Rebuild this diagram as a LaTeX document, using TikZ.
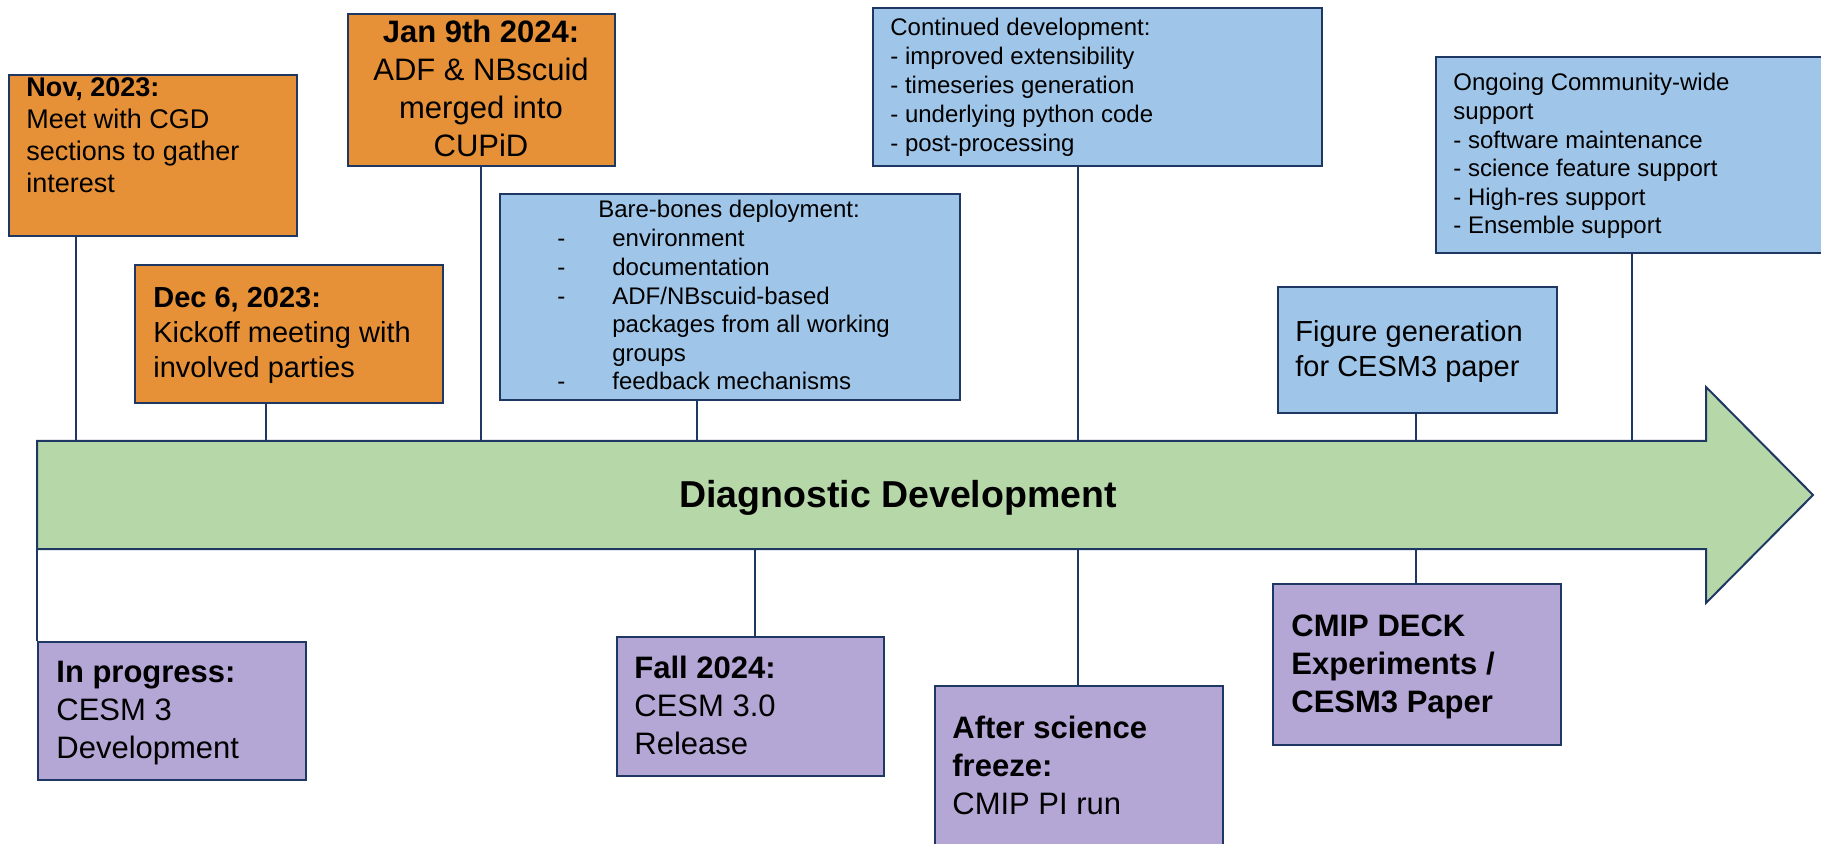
\documentclass[tikz,border=0pt]{standalone}
\usepackage{fontspec}
\setmainfont{Liberation Sans}
\newdimen\px \px=0.5pt
\definecolor{navy}{HTML}{1F3763}
\definecolor{orng}{HTML}{E69138}
\definecolor{lblue}{HTML}{9FC5E8}
\definecolor{lgreen}{HTML}{B6D7A8}
\definecolor{purp}{HTML}{B4A7D6}
\newcommand\lns[2]{\vtop{\baselineskip=#1\lineskiplimit=-20pt\halign{##\hfil\cr#2\crcr}}}
\newcommand\clns[2]{\vtop{\baselineskip=#1\lineskiplimit=-20pt\halign{\hfil##\hfil\cr#2\crcr}}}
\newcommand\dash{\makebox[55\px][l]{-}}
\begin{document}
\begin{tikzpicture}[x=0.5pt,y=-0.5pt,
  bx/.style={draw=navy, line width=1pt, inner sep=0pt, anchor=north west},
  ob/.style={bx, fill=orng},
  bb/.style={bx, fill=lblue},
  pb/.style={bx, fill=purp},
  conn/.style={draw=navy, line width=0.8pt},
  txt/.style={inner sep=0pt, anchor=base west, text=black},
  ctxt/.style={inner sep=0pt, anchor=base, text=black}]
\useasboundingbox (0,0) rectangle (1821,844);
\clip (0,0) rectangle (1821,844);

% timeline arrow
\draw[draw=navy, line width=1pt, fill=lgreen, line join=miter]
  (37,441) -- (1706,441) -- (1706,387) -- (1813,495) -- (1706,603) -- (1706,549) -- (37,549) -- cycle;
\coordinate (atop) at (0,441);
\coordinate (abot) at (0,549);
\node[ctxt, font=\fontsize{18.75}{22}\selectfont\bfseries] (title) at (898,508) {Diagnostic Development};

% connector x positions
\coordinate (xnov) at (76,0);
\coordinate (xdec) at (266,0);
\coordinate (xjan) at (481,0);
\coordinate (xbare) at (697,0);
\coordinate (xcont) at (1078,0);
\coordinate (xfig) at (1416,0);
\coordinate (xong) at (1632,0);
\coordinate (xinp) at (37,0);
\coordinate (xfall) at (755,0);

% boxes above
\node[ob, minimum width=288\px, minimum height=161\px] (nov) at (8,74) {};
\node[ob, minimum width=267\px, minimum height=152\px] (jan) at (347,13) {};
\node[ob, minimum width=308\px, minimum height=138\px] (dec) at (134,264) {};
\node[bb, minimum width=460\px, minimum height=206\px] (bare) at (499,193) {};
\node[bb, minimum width=449\px, minimum height=158\px] (cont) at (872,7) {};
\node[bb, minimum width=420\px, minimum height=196\px] (ong) at (1435,56) {};
\node[bb, minimum width=279\px, minimum height=126\px] (fig) at (1277,286) {};

% boxes below
\node[pb, minimum width=268\px, minimum height=138\px] (inp) at (37,641) {};
\node[pb, minimum width=267\px, minimum height=139\px] (fall) at (616,636) {};
\node[pb, minimum width=288\px, minimum height=180\px] (after) at (934,685) {};
\node[pb, minimum width=288\px, minimum height=161\px] (cmip) at (1272,583) {};

% connectors
\draw[conn] (nov.south -| xnov) -- (atop -| xnov);
\draw[conn] (dec.south -| xdec) -- (atop -| xdec);
\draw[conn] (jan.south -| xjan) -- (atop -| xjan);
\draw[conn] (bare.south -| xbare) -- (atop -| xbare);
\draw[conn] (cont.south -| xcont) -- (atop -| xcont);
\draw[conn] (fig.south -| xfig) -- (atop -| xfig);
\draw[conn] (ong.south -| xong) -- (atop -| xong);
\draw[conn] (abot -| xinp) -- (inp.north -| xinp);
\draw[conn] (abot -| xfall) -- (fall.north -| xfall);
\draw[conn] (abot -| xcont) -- (after.north -| xcont);
\draw[conn] (abot -| xfig) -- (cmip.north -| xfig);

% texts
\node[txt, font=\fontsize{13.5}{16}\selectfont] (novt) at (26,97)
  {\lns{16pt}{\bfseries Nov, 2023:\cr Meet with CGD\cr sections to gather\cr interest}};
\node[ctxt, font=\fontsize{15.5}{19}\selectfont] (jant) at (481,43)
  {\clns{19pt}{\bfseries Jan 9th 2024:\cr ADF \& NBscuid\cr merged into\cr CUPiD}};
\node[txt, font=\fontsize{14.5}{17.5}\selectfont] (dect) at (153,308)
  {\lns{17.5pt}{\bfseries Dec 6, 2023:\cr Kickoff meeting with\cr involved parties}};
\node[ctxt, font=\fontsize{12}{14.3}\selectfont] (baret) at (729,218) {Bare-bones deployment:};
\node[txt, font=\fontsize{12}{14.3}\selectfont] (barel) at (557,247)
  {\lns{14.3pt}{\dash environment\cr \dash documentation\cr \dash ADF/NBscuid-based\cr \hskip55\px packages from all working\cr \hskip55\px groups\cr \dash feedback mechanisms}};
\node[txt, font=\fontsize{12}{14.5}\selectfont] (contt) at (890,36)
  {\lns{14.5pt}{Continued development:\cr - improved extensibility\cr - timeseries generation\cr - underlying python code\cr - post-processing}};
\node[txt, font=\fontsize{12}{14.3}\selectfont] (ongt) at (1453,91)
  {\lns{14.3pt}{Ongoing Community-wide\cr support\cr - software maintenance\cr - science feature support\cr - High-res support\cr - Ensemble support}};
\node[txt, font=\fontsize{14.5}{17.5}\selectfont] (figt) at (1295,342)
  {\lns{17.5pt}{Figure generation\cr for CESM3 paper}};

\node[txt, font=\fontsize{15.5}{19}\selectfont] (inpt) at (56,682)
  {\lns{19pt}{\bfseries In progress:\cr CESM 3\cr Development}};
\node[txt, font=\fontsize{15.5}{19}\selectfont] (fallt) at (634,678)
  {\lns{19pt}{\bfseries Fall 2024:\cr CESM 3.0\cr Release}};
\node[txt, font=\fontsize{15.5}{19}\selectfont] (aftert) at (952,738)
  {\lns{19pt}{\bfseries After science\cr \bfseries freeze:\cr CMIP PI run}};
\node[txt, font=\fontsize{15.5}{19}\selectfont\bfseries] (cmipt) at (1291,636)
  {\lns{19pt}{CMIP DECK\cr Experiments /\cr CESM3 Paper}};
\end{tikzpicture}
\end{document}
